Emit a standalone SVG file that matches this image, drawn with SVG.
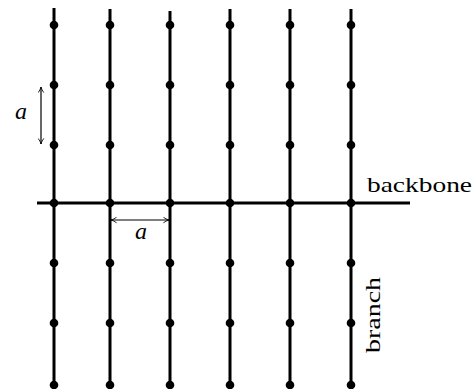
<svg xmlns="http://www.w3.org/2000/svg" width="476" height="389" viewBox="0 0 476 389">
<defs>
<marker id="ah" viewBox="0 0 10 10" refX="9" refY="5" markerWidth="7" markerHeight="7" orient="auto-start-reverse" markerUnits="userSpaceOnUse">
<path d="M1,1 Q5,4 9,5 Q5,6 1,9" fill="none" stroke="#000" stroke-width="1.2"/>
</marker>
</defs>
<style>
.ln{stroke:#000;stroke-width:3;fill:none}
.dot{fill:#000}
.dim{stroke:#000;stroke-width:1.2;fill:none;marker-start:url(#ah);marker-end:url(#ah)}
.t{font-family:"Liberation Serif","DejaVu Serif",serif;fill:#000}
.it{font-style:italic}
</style>
<rect width="476" height="389" fill="#fff"/>
<g id="connectors">
<line class="ln" x1="37" y1="203" x2="410" y2="203"/>
<line class="ln" x1="54" y1="8" x2="54" y2="385"/>
<line class="ln" x1="110" y1="9" x2="110" y2="385"/>
<line class="ln" x1="170" y1="11" x2="170" y2="385"/>
<line class="ln" x1="230" y1="9" x2="230" y2="385"/>
<line class="ln" x1="290" y1="9" x2="290" y2="385"/>
<line class="ln" x1="351" y1="9" x2="351" y2="385"/>
<line class="dim" x1="41" y1="87" x2="41" y2="144"/>
<line class="dim" x1="111" y1="220" x2="169" y2="220"/>
</g>
<g id="nodes">
<g id="col1"><circle class="dot" cx="54" cy="25" r="4.3"/><circle class="dot" cx="54" cy="85" r="4.3"/><circle class="dot" cx="54" cy="145" r="4.3"/><circle class="dot" cx="54" cy="203" r="4.3"/><circle class="dot" cx="54" cy="263" r="4.3"/><circle class="dot" cx="54" cy="323" r="4.3"/><circle class="dot" cx="54" cy="385" r="4.3"/></g>
<g id="col2"><circle class="dot" cx="110" cy="25" r="4.3"/><circle class="dot" cx="110" cy="85" r="4.3"/><circle class="dot" cx="110" cy="145" r="4.3"/><circle class="dot" cx="110" cy="203" r="4.3"/><circle class="dot" cx="110" cy="263" r="4.3"/><circle class="dot" cx="110" cy="323" r="4.3"/><circle class="dot" cx="110" cy="385" r="4.3"/></g>
<g id="col3"><circle class="dot" cx="170" cy="25" r="4.3"/><circle class="dot" cx="170" cy="85" r="4.3"/><circle class="dot" cx="170" cy="145" r="4.3"/><circle class="dot" cx="170" cy="203" r="4.3"/><circle class="dot" cx="170" cy="263" r="4.3"/><circle class="dot" cx="170" cy="323" r="4.3"/><circle class="dot" cx="170" cy="385" r="4.3"/></g>
<g id="col4"><circle class="dot" cx="230" cy="25" r="4.3"/><circle class="dot" cx="230" cy="85" r="4.3"/><circle class="dot" cx="230" cy="145" r="4.3"/><circle class="dot" cx="230" cy="203" r="4.3"/><circle class="dot" cx="230" cy="263" r="4.3"/><circle class="dot" cx="230" cy="323" r="4.3"/><circle class="dot" cx="230" cy="385" r="4.3"/></g>
<g id="col5"><circle class="dot" cx="290" cy="25" r="4.3"/><circle class="dot" cx="290" cy="85" r="4.3"/><circle class="dot" cx="290" cy="145" r="4.3"/><circle class="dot" cx="290" cy="203" r="4.3"/><circle class="dot" cx="290" cy="263" r="4.3"/><circle class="dot" cx="290" cy="323" r="4.3"/><circle class="dot" cx="290" cy="385" r="4.3"/></g>
<g id="col6"><circle class="dot" cx="351" cy="25" r="4.3"/><circle class="dot" cx="351" cy="85" r="4.3"/><circle class="dot" cx="351" cy="145" r="4.3"/><circle class="dot" cx="351" cy="203" r="4.3"/><circle class="dot" cx="351" cy="263" r="4.3"/><circle class="dot" cx="351" cy="323" r="4.3"/><circle class="dot" cx="351" cy="385" r="4.3"/></g>
<g id="labels">
<text class="t it" x="21" y="119" font-size="24" text-anchor="middle">a</text>
<text class="t it" x="141" y="239" font-size="24" text-anchor="middle">a</text>
<text class="t" x="367" y="192" font-size="21" textLength="105" lengthAdjust="spacingAndGlyphs">backbone</text>
<text class="t" transform="translate(380,353) rotate(-90)" x="0" y="0" font-size="21" textLength="76" lengthAdjust="spacingAndGlyphs">branch</text>
</g>
</g>
</svg>
